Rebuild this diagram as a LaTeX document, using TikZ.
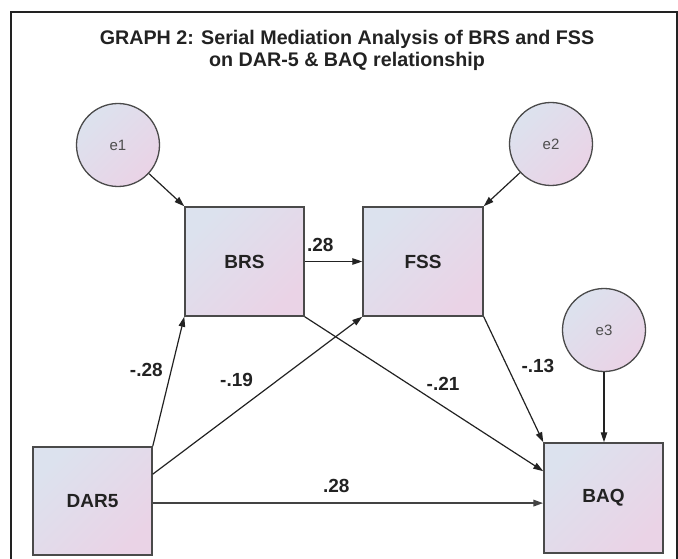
\documentclass[tikz,border=0pt]{standalone}
\usepackage{fontspec}
\setmainfont{Liberation Sans}
\usepackage{tikz}
\usetikzlibrary{arrows.meta,positioning}
\definecolor{boxtop}{HTML}{DCE2EE}
\definecolor{boxbottom}{HTML}{EAD3E6}
\definecolor{edge}{HTML}{4A4A4A}
\definecolor{ink}{HTML}{222222}
\tikzset{
  varbox/.style={draw=edge, line width=1.5pt, rectangle, inner sep=0pt,
    top color=boxtop, bottom color=boxbottom, shading angle=45,
    font=\fontsize{19}{22}\selectfont\bfseries, text=ink},
  errnode/.style={draw=edge, line width=1.3pt, circle, inner sep=0pt,
    minimum size=83pt, top color=boxtop, bottom color=boxbottom,
    shading angle=45, font=\fontsize{15}{18}\selectfont, text=ink!80},
  arr/.style={-{Triangle[length=10pt,width=6.5pt]}, line width=1.2pt, draw=ink},
  lbl/.style={font=\fontsize{19}{22}\selectfont\bfseries, text=ink, inner sep=1pt}
}
\begin{document}
\begin{tikzpicture}[x=1pt,y=-1pt]
  \useasboundingbox (0,0) rectangle (678,559);
  \draw[line width=1.6pt, ink] (11,559) -- (11,12) -- (677,12) -- (677,559);
  \node[align=center, font=\fontsize{19.7}{22}\selectfont\bfseries, text=ink] (title)
    at (347,50) {GRAPH 2: Serial Mediation Analysis of BRS and FSS\\on DAR-5 \& BAQ relationship};
  % observed variables
  \node[varbox, minimum width=119pt, minimum height=109pt] (brs) at (244.5,261.5) {BRS};
  \node[varbox, minimum width=120pt, minimum height=109pt] (fss) at (423,261.5) {FSS};
  \node[varbox, minimum width=119pt, minimum height=108pt] (dar) at (92.5,501) {DAR5};
  \node[varbox, minimum width=119pt, minimum height=110pt] (baq) at (603.5,498) {BAQ};
  % error terms
  \node[errnode] (e1) at (118,145) {e1};
  \node[errnode] (e2) at (551,144) {e2};
  \node[errnode] (e3) at (604,330) {e3};
  \draw[arr] (e1) -- (brs.north west);
  \draw[arr] (e2) -- (fss.north east);
  \draw[arr] (e3) -- (e3 |- baq.north);
  % paths
  \draw[arr] (brs) -- node[lbl, pos=0.27, above=8pt] {.28} (fss);
  \draw[arr] (dar.north east) -- node[lbl, pos=0.59, left=7pt] {-.28} (brs.south west);
  \draw[arr] (dar.24) -- node[lbl, pos=0.4, above=23pt] {-.19} (fss.south west);
  \draw[arr] (brs.south east) -- node[lbl, pos=0.58, above=14pt] {-.21} (baq.156);
  \draw[arr] (fss.south east) -- node[lbl, pos=0.39, right=13pt] {-.13} (baq.north west);
  \draw[arr, line width=2pt, draw=ink!85] (dar.-2) -- node[lbl, pos=0.47, above=8pt] {.28} (dar.-2 -| baq.west);
\end{tikzpicture}
\end{document}
